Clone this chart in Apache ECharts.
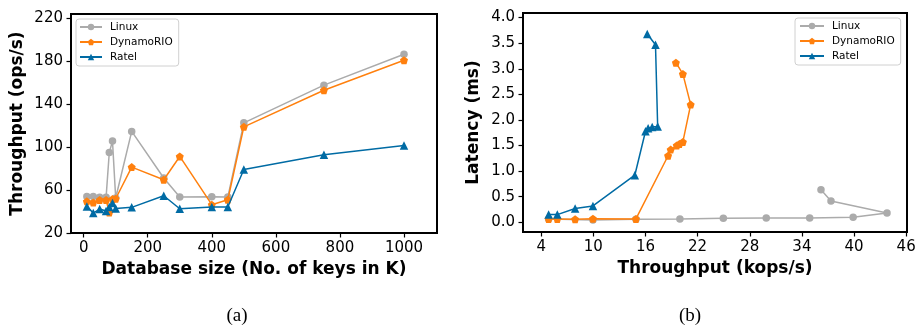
<!DOCTYPE html>
<html>
<head>
<meta charset="utf-8">
<script src="https://cdn.jsdelivr.net/npm/echarts@6/dist/echarts.min.js"></script>
<style>
html,body{margin:0;padding:0;background:#fff;}
#main{width:917px;height:329px;}
</style>
</head>
<body>
<div id="main"></div>
<script>
// ---- (a) Throughput vs database size ----
const dbSizes = [10, 30, 50, 70, 80, 90, 100, 150, 250, 300, 400, 450, 500, 750, 1000];
const linuxA  = [54.1, 54.1, 53.2, 53.2, 95.0, 105.6, 52.6, 114.6, 71.2, 53.5, 53.8, 53.5, 122.6, 157.7, 186.5];
const dynamoA = [49.5, 48.5, 50.7, 50.7, 39.2, 51.6, 51.9, 81.4, 69.6, 91.3, 46.4, 51.0, 118.9, 153.0, 180.9];
const ratelA  = [44.8, 38.6, 42.3, 40.5, 44.2, 47.9, 42.9, 43.9, 54.7, 42.6, 44.2, 44.2, 79.2, 92.9, 101.6];
const xTicksA = [0, 200, 400, 600, 800, 1000];
const yTicksA = [20, 60, 100, 140, 180, 220];

// ---- (b) Latency vs throughput ----
const linuxThrB  = [4.85, 9.95, 14.9, 19.96, 24.96, 29.9, 34.9, 39.9, 43.8, 37.35, 36.2];
const linuxLatB  = [0.065, 0.045, 0.06, 0.065, 0.078, 0.085, 0.085, 0.098, 0.18, 0.416, 0.637];
const dynamoThrB = [4.85, 5.85, 7.9, 9.95, 14.9, 18.6, 18.9, 19.6, 19.9, 20.3, 21.2, 20.3, 19.5];
const dynamoLatB = [0.065, 0.065, 0.06, 0.07, 0.065, 1.30, 1.42, 1.50, 1.53, 1.57, 2.30, 2.90, 3.12];
const ratelThrB  = [4.85, 5.85, 7.9, 9.95, 14.77, 16.0, 16.3, 16.77, 17.4, 17.15, 16.2];
const ratelLatB  = [0.15, 0.15, 0.27, 0.32, 0.92, 1.78, 1.84, 1.86, 1.87, 3.47, 3.68];
const xTicksB = [4, 10, 16, 22, 28, 34, 40, 46];
const yTicksB = [0, 0.5, 1.0, 1.5, 2.0, 2.5, 3.0, 3.5, 4.0];

const seriesNames = ['Linux', 'DynamoRIO', 'Ratel'];
const colors = ['#ABABAB', '#FF800E', '#006BA4'];
const pentagon = 'path://M0,-1L0.951,-0.309L0.588,0.809L-0.588,0.809L-0.951,-0.309Z';
const symbols = ['circle', pentagon, 'triangle'];
const symSizes = [7.5, 8, 8.5];

const FONT = 'DejaVu Sans';

function pairs(xs, ys) { return xs.map((x, i) => [x, ys[i]]); }

const dataA = [pairs(dbSizes, linuxA), pairs(dbSizes, dynamoA), pairs(dbSizes, ratelA)];
const dataB = [pairs(linuxThrB, linuxLatB), pairs(dynamoThrB, dynamoLatB), pairs(ratelThrB, ratelLatB)];

function axisCommon(ticks, fmt) {
  return {
    axisLine: { show: true, onZero: false, lineStyle: { color: '#000', width: 2 } },
    axisTick: { show: true, customValues: ticks, length: 4.5, lineStyle: { color: '#000', width: 1.2 } },
    axisLabel: { customValues: ticks, color: '#000', fontFamily: FONT, fontSize: 15, formatter: fmt, hideOverlap: false },
    splitLine: { show: false },
    nameTextStyle: { color: '#000', fontFamily: FONT, fontSize: 17, fontWeight: 'bold' }
  };
}

const series = [];
for (let k = 0; k < 3; k++) {
  series.push({
    name: seriesNames[k], type: 'line', xAxisIndex: 0, yAxisIndex: 0,
    data: dataA[k], symbol: symbols[k], symbolSize: symSizes[k], showAllSymbol: true,
    itemStyle: { color: colors[k] }, lineStyle: { color: colors[k], width: 1.5 },
    animation: false, z: 2 + k
  });
}
for (let k = 0; k < 3; k++) {
  series.push({
    name: seriesNames[k], type: 'line', xAxisIndex: 1, yAxisIndex: 1,
    data: dataB[k], symbol: symbols[k], symbolSize: symSizes[k], showAllSymbol: true,
    itemStyle: { color: colors[k] }, lineStyle: { color: colors[k], width: 1.5 },
    animation: false, z: 2 + k
  });
}

function legend(left, top, iconW, padLeft) {
  return {
    orient: 'vertical', left: left, top: top,
    data: seriesNames,
    itemWidth: iconW, itemHeight: 8, itemGap: 3,
    padding: [2, 6, 3, padLeft],
    borderColor: '#d0d0d0', borderWidth: 1, borderRadius: 3, backgroundColor: '#fff',
    textStyle: { fontFamily: FONT, fontSize: 10.5, color: '#000', lineHeight: 12, padding: [0, 0, 0, 3] },
    selectedMode: false
  };
}

const option = {
  animation: false,
  backgroundColor: '#fff',
  grid: [
    { left: 71, top: 14, width: 366, height: 219, show: true, borderColor: '#000', borderWidth: 2, outerBoundsMode: 'none' },
    { left: 523, top: 13, width: 384, height: 219, show: true, borderColor: '#000', borderWidth: 2, outerBoundsMode: 'none' }
  ],
  xAxis: [
    Object.assign(axisCommon(xTicksA, v => String(v)), {
      type: 'value', gridIndex: 0, min: -39.5, max: 1103,
      name: 'Database size (No. of keys in K)', nameLocation: 'middle', nameGap: 27
    }),
    Object.assign(axisCommon(xTicksB, v => String(v)), {
      type: 'value', gridIndex: 1, min: 1.9, max: 46.1,
      name: 'Throughput (kops/s)', nameLocation: 'middle', nameGap: 27
    })
  ],
  yAxis: [
    Object.assign(axisCommon(yTicksA, v => String(v)), {
      type: 'value', gridIndex: 0, min: 20, max: 224,
      name: 'Throughput (ops/s)', nameLocation: 'middle', nameGap: 45
    }),
    Object.assign(axisCommon(yTicksB, v => Number(v).toFixed(1)), {
      type: 'value', gridIndex: 1, min: -0.19, max: 4.09,
      name: 'Latency (ms)', nameLocation: 'middle', nameGap: 41
    })
  ],
  legend: [legend(76, 19, 22, 3), legend(795, 18, 24, 4)],
  graphic: [
    { type: 'text', x: 237, y: 316, style: { text: '(a)', font: '19px "Liberation Serif", serif', fill: '#000', textAlign: 'center', textVerticalAlign: 'middle' } },
    { type: 'text', x: 690, y: 316, style: { text: '(b)', font: '19px "Liberation Serif", serif', fill: '#000', textAlign: 'center', textVerticalAlign: 'middle' } }
  ],
  series: series
};

const chart = echarts.init(document.getElementById('main'), null, { renderer: 'canvas' });
chart.setOption(option);
</script>
</body>
</html>
